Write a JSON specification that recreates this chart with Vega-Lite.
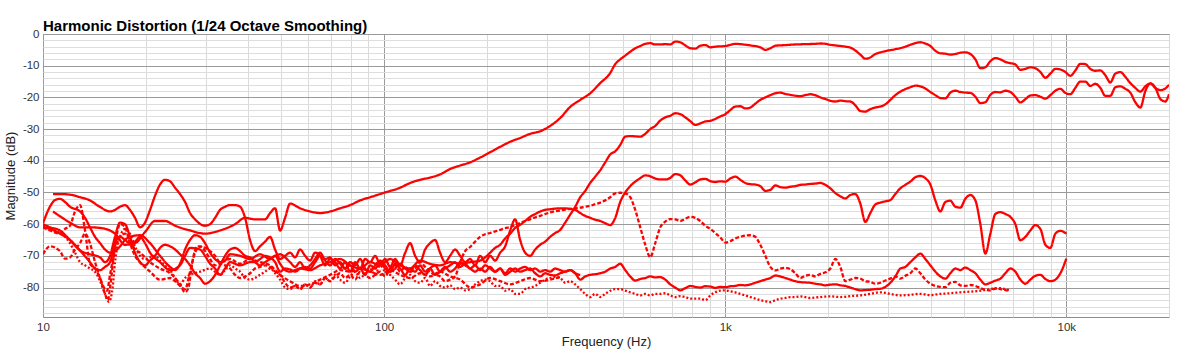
{
"$schema":"https://vega.github.io/schema/vega-lite/v6.json",
"width":1126,"height":283,
"autosize":{"type":"none"},
"padding":{"left":43,"top":34,"right":31,"bottom":37},
"background":"white",
"title":{"text":"Harmonic Distortion (1/24 Octave Smoothing)","anchor":"start","frame":"group","font":"Liberation Sans","fontSize":15,"fontWeight":"bold","color":"#000000","baseline":"alphabetic","offset":4,"dy":22},
"config":{"view":{"stroke":"#8c8c8c","strokeWidth":1}},
"data":{"values":[
{"s":"A","f":10.7,"y":-56},{"s":"A","f":11.21,"y":-57.5},{"s":"A","f":12,"y":-59.5},{"s":"A","f":12.84,"y":-61},{"s":"A","f":13.73,"y":-61},{"s":"A","f":14.7,"y":-61.2},{"s":"A","f":15.72,"y":-62},{"s":"A","f":16.26,"y":-63},{"s":"A","f":17.4,"y":-66.5},{"s":"A","f":18.61,"y":-66},{"s":"A","f":19.91,"y":-62.5},{"s":"A","f":21.31,"y":-59},{"s":"A","f":22.79,"y":-59},{"s":"A","f":24.39,"y":-60.5},{"s":"A","f":26.98,"y":-62},{"s":"A","f":29.86,"y":-63},{"s":"A","f":33.04,"y":-62},{"s":"A","f":36.57,"y":-60},{"s":"A","f":39.12,"y":-58},{"s":"A","f":41.85,"y":-58.5},{"s":"A","f":44.78,"y":-58.5},{"s":"A","f":46.32,"y":-56.5},{"s":"A","f":47.91,"y":-55},{"s":"A","f":49.55,"y":-62},{"s":"A","f":51.25,"y":-58},{"s":"A","f":53.02,"y":-53.5},{"s":"A","f":56.72,"y":-55},{"s":"A","f":60.68,"y":-56},{"s":"A","f":64.92,"y":-56.5},{"s":"A","f":69.46,"y":-56},{"s":"A","f":74.31,"y":-55},{"s":"A","f":79.5,"y":-54},{"s":"A","f":85.06,"y":-52.5},{"s":"A","f":91,"y":-51.5},{"s":"A","f":100.7,"y":-50},{"s":"A","f":111.4,"y":-48.5},{"s":"A","f":119.2,"y":-47},{"s":"A","f":127.5,"y":-46},{"s":"A","f":136.4,"y":-45.3},{"s":"A","f":145.9,"y":-44.3},{"s":"A","f":156.1,"y":-42.6},{"s":"A","f":167.1,"y":-41.5},{"s":"A","f":178.7,"y":-40.5},{"s":"A","f":191.2,"y":-39},{"s":"A","f":204.6,"y":-37.3},{"s":"A","f":218.9,"y":-35.6},{"s":"A","f":234.2,"y":-34},{"s":"A","f":250.5,"y":-32.8},{"s":"A","f":268,"y":-31.5},{"s":"A","f":286.8,"y":-30.7},{"s":"A","f":306.8,"y":-29},{"s":"A","f":328.3,"y":-26.5},{"s":"A","f":351.2,"y":-23},{"s":"A","f":375.8,"y":-20.8},{"s":"A","f":402,"y":-18.7},{"s":"A","f":430.1,"y":-15.5},{"s":"A","f":460.2,"y":-12.3},{"s":"A","f":476,"y":-9.5},{"s":"A","f":492.3,"y":-8},{"s":"A","f":509.2,"y":-6.8},{"s":"A","f":526.7,"y":-5.6},{"s":"A","f":544.8,"y":-4.5},{"s":"A","f":563.6,"y":-3.8},{"s":"A","f":582.9,"y":-3.1},{"s":"A","f":602.9,"y":-2.9},{"s":"A","f":623.6,"y":-3.3},{"s":"A","f":645.1,"y":-3.3},{"s":"A","f":667.2,"y":-3.2},{"s":"A","f":690.2,"y":-3.3},{"s":"A","f":713.9,"y":-2.4},{"s":"A","f":738.4,"y":-2.6},{"s":"A","f":763.7,"y":-3.6},{"s":"A","f":790,"y":-4.5},{"s":"A","f":817.1,"y":-4.6},{"s":"A","f":845.2,"y":-3.7},{"s":"A","f":874.2,"y":-3.5},{"s":"A","f":904.3,"y":-4.2},{"s":"A","f":935.3,"y":-4},{"s":"A","f":967.5,"y":-3.9},{"s":"A","f":1001,"y":-3.8},{"s":"A","f":1035,"y":-3.4},{"s":"A","f":1070,"y":-3.1},{"s":"A","f":1107,"y":-3.2},{"s":"A","f":1185,"y":-3.6},{"s":"A","f":1267,"y":-4.2},{"s":"A","f":1311,"y":-5},{"s":"A","f":1356,"y":-4.5},{"s":"A","f":1403,"y":-3.7},{"s":"A","f":1501,"y":-3.5},{"s":"A","f":1605,"y":-3.3},{"s":"A","f":1717,"y":-3.2},{"s":"A","f":1837,"y":-3.1},{"s":"A","f":1900,"y":-3},{"s":"A","f":1966,"y":-3.1},{"s":"A","f":2033,"y":-3.4},{"s":"A","f":2103,"y":-3.6},{"s":"A","f":2250,"y":-4},{"s":"A","f":2327,"y":-4.3},{"s":"A","f":2407,"y":-5.2},{"s":"A","f":2489,"y":-6.5},{"s":"A","f":2575,"y":-7.8},{"s":"A","f":2663,"y":-7.4},{"s":"A","f":2755,"y":-6.3},{"s":"A","f":2849,"y":-5.8},{"s":"A","f":2947,"y":-5.4},{"s":"A","f":3153,"y":-4.8},{"s":"A","f":3373,"y":-4},{"s":"A","f":3489,"y":-3.4},{"s":"A","f":3609,"y":-2.9},{"s":"A","f":3733,"y":-2.6},{"s":"A","f":3861,"y":-3},{"s":"A","f":3994,"y":-3.8},{"s":"A","f":4131,"y":-5.3},{"s":"A","f":4273,"y":-6.1},{"s":"A","f":4420,"y":-6.2},{"s":"A","f":4571,"y":-6.5},{"s":"A","f":4728,"y":-6.3},{"s":"A","f":4890,"y":-5.9},{"s":"A","f":5058,"y":-5.8},{"s":"A","f":5232,"y":-6.3},{"s":"A","f":5412,"y":-8},{"s":"A","f":5597,"y":-10.8},{"s":"A","f":5790,"y":-10.5},{"s":"A","f":5988,"y":-8.6},{"s":"A","f":6194,"y":-7.6},{"s":"A","f":6406,"y":-8},{"s":"A","f":6626,"y":-8.8},{"s":"A","f":6854,"y":-9.2},{"s":"A","f":7089,"y":-9.6},{"s":"A","f":7332,"y":-11.3},{"s":"A","f":7584,"y":-11},{"s":"A","f":7845,"y":-10.5},{"s":"A","f":8114,"y":-10.8},{"s":"A","f":8393,"y":-12},{"s":"A","f":8681,"y":-13.8},{"s":"A","f":8979,"y":-12.5},{"s":"A","f":9288,"y":-11},{"s":"A","f":9606,"y":-11.2},{"s":"A","f":9936,"y":-12},{"s":"A","f":10274,"y":-13.2},{"s":"A","f":10630,"y":-11.5},{"s":"A","f":10992,"y":-9.4},{"s":"A","f":11370,"y":-9.5},{"s":"A","f":11760,"y":-11},{"s":"A","f":12160,"y":-11.6},{"s":"A","f":12581,"y":-11.5},{"s":"A","f":13010,"y":-13},{"s":"A","f":13460,"y":-15.3},{"s":"A","f":13920,"y":-12.5},{"s":"A","f":14400,"y":-12},{"s":"A","f":14890,"y":-13.5},{"s":"A","f":15406,"y":-15.5},{"s":"A","f":15930,"y":-17},{"s":"A","f":16483,"y":-18.2},{"s":"A","f":17050,"y":-16.5},{"s":"A","f":17634,"y":-15.6},{"s":"A","f":18240,"y":-17},{"s":"A","f":18866,"y":-17.7},{"s":"A","f":19510,"y":-17.2},{"s":"A","f":20000,"y":-16},
{"s":"B","f":10.7,"y":-50.5},{"s":"B","f":11.21,"y":-50.5},{"s":"B","f":12,"y":-50.7},{"s":"B","f":12.84,"y":-51.5},{"s":"B","f":13.73,"y":-52.5},{"s":"B","f":14.7,"y":-54.6},{"s":"B","f":15.72,"y":-56},{"s":"B","f":16.26,"y":-55.5},{"s":"B","f":16.82,"y":-54.5},{"s":"B","f":17.4,"y":-54},{"s":"B","f":17.99,"y":-55.5},{"s":"B","f":18.61,"y":-58},{"s":"B","f":19.25,"y":-61},{"s":"B","f":19.91,"y":-59.5},{"s":"B","f":20.6,"y":-55.5},{"s":"B","f":21.31,"y":-51},{"s":"B","f":22.03,"y":-47.5},{"s":"B","f":22.79,"y":-46},{"s":"B","f":23.58,"y":-46.5},{"s":"B","f":24.39,"y":-48.5},{"s":"B","f":25.22,"y":-50.5},{"s":"B","f":26.09,"y":-53},{"s":"B","f":26.98,"y":-56.5},{"s":"B","f":27.91,"y":-58.5},{"s":"B","f":29.86,"y":-60.5},{"s":"B","f":30.89,"y":-60},{"s":"B","f":31.95,"y":-58},{"s":"B","f":33.04,"y":-55.5},{"s":"B","f":34.18,"y":-54.5},{"s":"B","f":35.35,"y":-54},{"s":"B","f":36.57,"y":-54},{"s":"B","f":37.82,"y":-54.5},{"s":"B","f":39.12,"y":-58},{"s":"B","f":40.46,"y":-65},{"s":"B","f":41.85,"y":-68.5},{"s":"B","f":43.29,"y":-67},{"s":"B","f":44.78,"y":-65.5},{"s":"B","f":46.32,"y":-64},{"s":"B","f":47.91,"y":-68},{"s":"B","f":49.55,"y":-71},{"s":"B","f":51.25,"y":-70},{"s":"B","f":53.02,"y":-69},{"s":"B","f":54.84,"y":-70.5},{"s":"B","f":56.72,"y":-68},{"s":"B","f":58.67,"y":-70},{"s":"B","f":60.68,"y":-71.5},{"s":"B","f":62.77,"y":-69},{"s":"B","f":64.92,"y":-70},{"s":"B","f":67.15,"y":-73},{"s":"B","f":69.46,"y":-71},{"s":"B","f":71.85,"y":-72},{"s":"B","f":74.31,"y":-74},{"s":"B","f":76.87,"y":-72},{"s":"B","f":79.5,"y":-75},{"s":"B","f":82.23,"y":-72},{"s":"B","f":85.06,"y":-74},{"s":"B","f":87.98,"y":-71},{"s":"B","f":91,"y":-72},{"s":"B","f":94.13,"y":-70},{"s":"B","f":97.34,"y":-72.5},{"s":"B","f":100.7,"y":-71},{"s":"B","f":104.1,"y":-73.5},{"s":"B","f":107.7,"y":-71},{"s":"B","f":111.4,"y":-73},{"s":"B","f":115.3,"y":-69},{"s":"B","f":119.2,"y":-66},{"s":"B","f":123.3,"y":-70},{"s":"B","f":127.5,"y":-72},{"s":"B","f":131.9,"y":-68},{"s":"B","f":136.4,"y":-66},{"s":"B","f":141.1,"y":-65},{"s":"B","f":145.9,"y":-69},{"s":"B","f":150.9,"y":-72},{"s":"B","f":156.1,"y":-70},{"s":"B","f":161.5,"y":-68},{"s":"B","f":167.1,"y":-70},{"s":"B","f":172.8,"y":-72},{"s":"B","f":178.7,"y":-71},{"s":"B","f":184.9,"y":-73},{"s":"B","f":191.2,"y":-70},{"s":"B","f":197.8,"y":-72},{"s":"B","f":204.6,"y":-70},{"s":"B","f":211.6,"y":-71.5},{"s":"B","f":218.9,"y":-69},{"s":"B","f":226.4,"y":-67},{"s":"B","f":234.2,"y":-62},{"s":"B","f":242.2,"y":-58.5},{"s":"B","f":250.5,"y":-65},{"s":"B","f":259.1,"y":-69},{"s":"B","f":268,"y":-70},{"s":"B","f":277.3,"y":-68},{"s":"B","f":286.8,"y":-66.5},{"s":"B","f":296.6,"y":-65.5},{"s":"B","f":306.8,"y":-64},{"s":"B","f":317.4,"y":-62.8},{"s":"B","f":328.3,"y":-61.8},{"s":"B","f":339.5,"y":-59.5},{"s":"B","f":351.2,"y":-57},{"s":"B","f":363.3,"y":-54.5},{"s":"B","f":375.8,"y":-51.5},{"s":"B","f":388.7,"y":-49.5},{"s":"B","f":402,"y":-47},{"s":"B","f":415.8,"y":-45},{"s":"B","f":430.1,"y":-43},{"s":"B","f":444.9,"y":-40.5},{"s":"B","f":460.2,"y":-38},{"s":"B","f":476,"y":-37},{"s":"B","f":492.3,"y":-35},{"s":"B","f":509.2,"y":-32.4},{"s":"B","f":526.7,"y":-32.2},{"s":"B","f":544.8,"y":-32.3},{"s":"B","f":563.6,"y":-32.4},{"s":"B","f":582.9,"y":-31.5},{"s":"B","f":602.9,"y":-30},{"s":"B","f":623.6,"y":-29},{"s":"B","f":645.1,"y":-27.3},{"s":"B","f":667.2,"y":-26.3},{"s":"B","f":690.2,"y":-25.8},{"s":"B","f":713.9,"y":-25},{"s":"B","f":738.4,"y":-25.3},{"s":"B","f":763.7,"y":-26.3},{"s":"B","f":790,"y":-27.5},{"s":"B","f":817.1,"y":-28.7},{"s":"B","f":845.2,"y":-28.2},{"s":"B","f":874.2,"y":-27.6},{"s":"B","f":904.3,"y":-27.4},{"s":"B","f":935.3,"y":-26.8},{"s":"B","f":967.5,"y":-26},{"s":"B","f":1001,"y":-25.3},{"s":"B","f":1035,"y":-24},{"s":"B","f":1070,"y":-22.9},{"s":"B","f":1107,"y":-22.8},{"s":"B","f":1145,"y":-23.5},{"s":"B","f":1185,"y":-23.2},{"s":"B","f":1225,"y":-22},{"s":"B","f":1267,"y":-20.8},{"s":"B","f":1311,"y":-20},{"s":"B","f":1356,"y":-19.3},{"s":"B","f":1403,"y":-18.7},{"s":"B","f":1451,"y":-18.5},{"s":"B","f":1501,"y":-18.9},{"s":"B","f":1552,"y":-19.2},{"s":"B","f":1660,"y":-19.6},{"s":"B","f":1717,"y":-19.3},{"s":"B","f":1776,"y":-19},{"s":"B","f":1837,"y":-19.3},{"s":"B","f":1900,"y":-20},{"s":"B","f":1966,"y":-20.5},{"s":"B","f":2033,"y":-21.1},{"s":"B","f":2103,"y":-21.3},{"s":"B","f":2175,"y":-21},{"s":"B","f":2250,"y":-21.2},{"s":"B","f":2327,"y":-21.3},{"s":"B","f":2407,"y":-22.5},{"s":"B","f":2489,"y":-24.3},{"s":"B","f":2575,"y":-24.5},{"s":"B","f":2663,"y":-23.7},{"s":"B","f":2755,"y":-23.2},{"s":"B","f":2849,"y":-22.9},{"s":"B","f":2947,"y":-22.2},{"s":"B","f":3048,"y":-20.8},{"s":"B","f":3153,"y":-19.3},{"s":"B","f":3261,"y":-18.2},{"s":"B","f":3373,"y":-17.4},{"s":"B","f":3489,"y":-16.8},{"s":"B","f":3609,"y":-16.3},{"s":"B","f":3733,"y":-16.5},{"s":"B","f":3861,"y":-17.2},{"s":"B","f":3994,"y":-18.3},{"s":"B","f":4131,"y":-19.3},{"s":"B","f":4273,"y":-20.2},{"s":"B","f":4420,"y":-20.3},{"s":"B","f":4571,"y":-18.5},{"s":"B","f":4728,"y":-17.9},{"s":"B","f":4890,"y":-18.3},{"s":"B","f":5058,"y":-18.5},{"s":"B","f":5232,"y":-18.6},{"s":"B","f":5412,"y":-19.8},{"s":"B","f":5597,"y":-21.8},{"s":"B","f":5790,"y":-21.5},{"s":"B","f":5988,"y":-19.2},{"s":"B","f":6194,"y":-18.3},{"s":"B","f":6406,"y":-18.4},{"s":"B","f":6626,"y":-17.9},{"s":"B","f":6854,"y":-18.3},{"s":"B","f":7089,"y":-19.8},{"s":"B","f":7332,"y":-21.6},{"s":"B","f":7584,"y":-20.6},{"s":"B","f":7845,"y":-19.4},{"s":"B","f":8114,"y":-19.3},{"s":"B","f":8393,"y":-19.8},{"s":"B","f":8681,"y":-20.4},{"s":"B","f":8979,"y":-19.3},{"s":"B","f":9288,"y":-17.9},{"s":"B","f":9606,"y":-17.3},{"s":"B","f":9936,"y":-18.6},{"s":"B","f":10274,"y":-19},{"s":"B","f":10630,"y":-17},{"s":"B","f":10992,"y":-15},{"s":"B","f":11370,"y":-15},{"s":"B","f":11760,"y":-16.4},{"s":"B","f":12160,"y":-15.7},{"s":"B","f":12581,"y":-17},{"s":"B","f":13010,"y":-19.5},{"s":"B","f":13460,"y":-19.5},{"s":"B","f":13920,"y":-16.8},{"s":"B","f":14400,"y":-16.5},{"s":"B","f":14890,"y":-17.3},{"s":"B","f":15406,"y":-18.5},{"s":"B","f":15930,"y":-21.5},{"s":"B","f":16483,"y":-23.2},{"s":"B","f":17050,"y":-18},{"s":"B","f":17634,"y":-15.6},{"s":"B","f":18240,"y":-17},{"s":"B","f":18866,"y":-20.5},{"s":"B","f":19510,"y":-21.3},{"s":"B","f":20000,"y":-19},
{"s":"C","f":10,"y":-59.7},{"s":"C","f":10.48,"y":-54.5},{"s":"C","f":10.84,"y":-52.4},{"s":"C","f":11.21,"y":-52},{"s":"C","f":11.6,"y":-53},{"s":"C","f":12,"y":-54.5},{"s":"C","f":12.84,"y":-56},{"s":"C","f":13.28,"y":-58},{"s":"C","f":13.73,"y":-61},{"s":"C","f":14.21,"y":-64},{"s":"C","f":14.7,"y":-66},{"s":"C","f":15.2,"y":-68},{"s":"C","f":15.72,"y":-69},{"s":"C","f":16.26,"y":-68.5},{"s":"C","f":16.82,"y":-67},{"s":"C","f":17.4,"y":-65},{"s":"C","f":17.99,"y":-64},{"s":"C","f":19.25,"y":-63.5},{"s":"C","f":20.6,"y":-66},{"s":"C","f":22.03,"y":-70},{"s":"C","f":23.58,"y":-73.5},{"s":"C","f":24.39,"y":-74.5},{"s":"C","f":25.22,"y":-72.5},{"s":"C","f":26.09,"y":-68},{"s":"C","f":26.98,"y":-65},{"s":"C","f":27.91,"y":-63.5},{"s":"C","f":28.87,"y":-64},{"s":"C","f":29.86,"y":-66},{"s":"C","f":30.89,"y":-69},{"s":"C","f":31.95,"y":-71},{"s":"C","f":33.04,"y":-72},{"s":"C","f":34.18,"y":-71.5},{"s":"C","f":35.35,"y":-69.5},{"s":"C","f":37.82,"y":-70},{"s":"C","f":40.46,"y":-71},{"s":"C","f":43.29,"y":-69.5},{"s":"C","f":46.32,"y":-71},{"s":"C","f":47.91,"y":-70},{"s":"C","f":49.55,"y":-72.5},{"s":"C","f":51.25,"y":-74.5},{"s":"C","f":53.02,"y":-75},{"s":"C","f":56.72,"y":-74},{"s":"C","f":60.68,"y":-74.5},{"s":"C","f":64.92,"y":-73},{"s":"C","f":69.46,"y":-72},{"s":"C","f":74.31,"y":-71},{"s":"C","f":79.5,"y":-73},{"s":"C","f":85.06,"y":-74},{"s":"C","f":91,"y":-72},{"s":"C","f":97.34,"y":-73},{"s":"C","f":104.1,"y":-71},{"s":"C","f":111.4,"y":-73},{"s":"C","f":119.2,"y":-74},{"s":"C","f":127.5,"y":-71.5},{"s":"C","f":136.4,"y":-72.5},{"s":"C","f":145.9,"y":-73},{"s":"C","f":156.1,"y":-72},{"s":"C","f":167.1,"y":-72.5},{"s":"C","f":178.7,"y":-72},{"s":"C","f":191.2,"y":-71.5},{"s":"C","f":197.8,"y":-70.5},{"s":"C","f":204.6,"y":-69},{"s":"C","f":211.6,"y":-67.5},{"s":"C","f":218.9,"y":-66.5},{"s":"C","f":226.4,"y":-64.5},{"s":"C","f":234.2,"y":-63},{"s":"C","f":242.2,"y":-61.2},{"s":"C","f":250.5,"y":-60.2},{"s":"C","f":259.1,"y":-59},{"s":"C","f":268,"y":-57.7},{"s":"C","f":277.3,"y":-56.8},{"s":"C","f":286.8,"y":-56},{"s":"C","f":296.6,"y":-55.5},{"s":"C","f":306.8,"y":-55.3},{"s":"C","f":317.4,"y":-55.1},{"s":"C","f":328.3,"y":-55},{"s":"C","f":339.5,"y":-55},{"s":"C","f":351.2,"y":-55.2},{"s":"C","f":363.3,"y":-55.5},{"s":"C","f":375.8,"y":-56.5},{"s":"C","f":388.7,"y":-57.4},{"s":"C","f":402,"y":-58},{"s":"C","f":415.8,"y":-58.6},{"s":"C","f":430.1,"y":-59},{"s":"C","f":444.9,"y":-59.7},{"s":"C","f":460.2,"y":-60.3},{"s":"C","f":476,"y":-58},{"s":"C","f":492.3,"y":-53},{"s":"C","f":509.2,"y":-50},{"s":"C","f":526.7,"y":-48},{"s":"C","f":544.8,"y":-46.6},{"s":"C","f":563.6,"y":-45.5},{"s":"C","f":582.9,"y":-44.6},{"s":"C","f":602.9,"y":-44.9},{"s":"C","f":623.6,"y":-45.6},{"s":"C","f":645.1,"y":-45.9},{"s":"C","f":667.2,"y":-45.9},{"s":"C","f":690.2,"y":-45.4},{"s":"C","f":713.9,"y":-44.2},{"s":"C","f":738.4,"y":-44.6},{"s":"C","f":763.7,"y":-46.2},{"s":"C","f":790,"y":-47.5},{"s":"C","f":817.1,"y":-46.8},{"s":"C","f":845.2,"y":-45.9},{"s":"C","f":874.2,"y":-45.7},{"s":"C","f":904.3,"y":-46.4},{"s":"C","f":935.3,"y":-46.7},{"s":"C","f":967.5,"y":-46.5},{"s":"C","f":1001,"y":-46.6},{"s":"C","f":1035,"y":-45.6},{"s":"C","f":1070,"y":-45},{"s":"C","f":1107,"y":-46},{"s":"C","f":1145,"y":-47},{"s":"C","f":1185,"y":-47.4},{"s":"C","f":1225,"y":-47.5},{"s":"C","f":1267,"y":-48},{"s":"C","f":1311,"y":-49.5},{"s":"C","f":1356,"y":-49.2},{"s":"C","f":1403,"y":-47.8},{"s":"C","f":1451,"y":-48.3},{"s":"C","f":1501,"y":-48.5},{"s":"C","f":1552,"y":-48.2},{"s":"C","f":1605,"y":-48},{"s":"C","f":1660,"y":-47.6},{"s":"C","f":1717,"y":-47.5},{"s":"C","f":1776,"y":-47.3},{"s":"C","f":1837,"y":-47.2},{"s":"C","f":1900,"y":-47},{"s":"C","f":1966,"y":-47.6},{"s":"C","f":2033,"y":-48.7},{"s":"C","f":2103,"y":-50.2},{"s":"C","f":2175,"y":-51.2},{"s":"C","f":2250,"y":-51.9},{"s":"C","f":2327,"y":-50.8},{"s":"C","f":2407,"y":-50.5},{"s":"C","f":2489,"y":-53.5},{"s":"C","f":2575,"y":-59.3},{"s":"C","f":2663,"y":-56.5},{"s":"C","f":2755,"y":-53.8},{"s":"C","f":2849,"y":-53.2},{"s":"C","f":2947,"y":-52.8},{"s":"C","f":3048,"y":-52.4},{"s":"C","f":3153,"y":-50.5},{"s":"C","f":3261,"y":-48.7},{"s":"C","f":3373,"y":-47.6},{"s":"C","f":3489,"y":-46.6},{"s":"C","f":3609,"y":-45.2},{"s":"C","f":3733,"y":-44.8},{"s":"C","f":3861,"y":-45.5},{"s":"C","f":3994,"y":-47.5},{"s":"C","f":4131,"y":-52.5},{"s":"C","f":4273,"y":-56},{"s":"C","f":4420,"y":-53},{"s":"C","f":4571,"y":-52.6},{"s":"C","f":4728,"y":-54.5},{"s":"C","f":4890,"y":-54.8},{"s":"C","f":5058,"y":-52},{"s":"C","f":5232,"y":-50.8},{"s":"C","f":5412,"y":-52.5},{"s":"C","f":5597,"y":-60},{"s":"C","f":5790,"y":-69.3},{"s":"C","f":5988,"y":-63},{"s":"C","f":6194,"y":-56.8},{"s":"C","f":6406,"y":-56.2},{"s":"C","f":6626,"y":-56.8},{"s":"C","f":6854,"y":-57.7},{"s":"C","f":7089,"y":-60},{"s":"C","f":7332,"y":-65.1},{"s":"C","f":7584,"y":-64},{"s":"C","f":7845,"y":-62},{"s":"C","f":8114,"y":-60.3},{"s":"C","f":8393,"y":-61.5},{"s":"C","f":8681,"y":-66.5},{"s":"C","f":8979,"y":-67.5},{"s":"C","f":9288,"y":-63},{"s":"C","f":9606,"y":-62.1},{"s":"C","f":10000,"y":-63},
{"s":"D","f":10,"y":-61},{"s":"D","f":10.48,"y":-62},{"s":"D","f":11.21,"y":-63},{"s":"D","f":11.6,"y":-61.5},{"s":"D","f":12,"y":-60.5},{"s":"D","f":12.41,"y":-56},{"s":"D","f":12.84,"y":-54},{"s":"D","f":13.28,"y":-62},{"s":"D","f":13.73,"y":-72.5},{"s":"D","f":14.21,"y":-74},{"s":"D","f":14.7,"y":-77},{"s":"D","f":15.2,"y":-82},{"s":"D","f":15.5,"y":-84},{"s":"D","f":15.72,"y":-80},{"s":"D","f":16.26,"y":-67},{"s":"D","f":16.82,"y":-60},{"s":"D","f":17.4,"y":-61},{"s":"D","f":17.99,"y":-66},{"s":"D","f":18.61,"y":-70},{"s":"D","f":19.25,"y":-72},{"s":"D","f":20.6,"y":-75},{"s":"D","f":22.03,"y":-77.5},{"s":"D","f":23.58,"y":-77},{"s":"D","f":24.39,"y":-78},{"s":"D","f":25.22,"y":-79.5},{"s":"D","f":26.09,"y":-80.5},{"s":"D","f":26.98,"y":-75},{"s":"D","f":27.91,"y":-69},{"s":"D","f":28.87,"y":-67},{"s":"D","f":29.86,"y":-68.5},{"s":"D","f":30.89,"y":-71},{"s":"D","f":31.95,"y":-73},{"s":"D","f":33.04,"y":-72.5},{"s":"D","f":34.18,"y":-73},{"s":"D","f":35.35,"y":-74},{"s":"D","f":36.57,"y":-76},{"s":"D","f":37.82,"y":-77},{"s":"D","f":39.12,"y":-76.5},{"s":"D","f":40.46,"y":-75.5},{"s":"D","f":41.85,"y":-74},{"s":"D","f":43.29,"y":-73.5},{"s":"D","f":44.78,"y":-73},{"s":"D","f":46.32,"y":-73.5},{"s":"D","f":47.91,"y":-75},{"s":"D","f":49.55,"y":-76},{"s":"D","f":51.25,"y":-78.5},{"s":"D","f":53.02,"y":-80},{"s":"D","f":54.84,"y":-79.5},{"s":"D","f":56.72,"y":-80.5},{"s":"D","f":58.67,"y":-79},{"s":"D","f":60.68,"y":-80},{"s":"D","f":62.77,"y":-78.5},{"s":"D","f":64.92,"y":-79},{"s":"D","f":67.15,"y":-77},{"s":"D","f":69.46,"y":-78},{"s":"D","f":71.85,"y":-76.5},{"s":"D","f":74.31,"y":-75.5},{"s":"D","f":76.87,"y":-77},{"s":"D","f":79.5,"y":-76},{"s":"D","f":82.23,"y":-77.5},{"s":"D","f":85.06,"y":-75},{"s":"D","f":87.98,"y":-76},{"s":"D","f":91,"y":-77},{"s":"D","f":94.13,"y":-76},{"s":"D","f":97.34,"y":-75},{"s":"D","f":100.7,"y":-76.5},{"s":"D","f":104.1,"y":-74},{"s":"D","f":107.7,"y":-73},{"s":"D","f":111.4,"y":-75},{"s":"D","f":115.3,"y":-73.5},{"s":"D","f":119.2,"y":-75},{"s":"D","f":123.3,"y":-74},{"s":"D","f":127.5,"y":-72},{"s":"D","f":131.9,"y":-73.5},{"s":"D","f":136.4,"y":-75},{"s":"D","f":141.1,"y":-76},{"s":"D","f":145.9,"y":-76.5},{"s":"D","f":150.9,"y":-78},{"s":"D","f":156.1,"y":-77.5},{"s":"D","f":161.5,"y":-76.5},{"s":"D","f":167.1,"y":-72},{"s":"D","f":172.8,"y":-68.5},{"s":"D","f":178.7,"y":-67.2},{"s":"D","f":184.9,"y":-65.5},{"s":"D","f":191.2,"y":-64},{"s":"D","f":197.8,"y":-63.2},{"s":"D","f":204.6,"y":-62.8},{"s":"D","f":211.6,"y":-62.3},{"s":"D","f":218.9,"y":-61.8},{"s":"D","f":226.4,"y":-61.3},{"s":"D","f":234.2,"y":-60.9},{"s":"D","f":242.2,"y":-60.3},{"s":"D","f":250.5,"y":-59.6},{"s":"D","f":259.1,"y":-59},{"s":"D","f":268,"y":-58.5},{"s":"D","f":277.3,"y":-57.9},{"s":"D","f":286.8,"y":-57.4},{"s":"D","f":296.6,"y":-56.8},{"s":"D","f":306.8,"y":-56.3},{"s":"D","f":317.4,"y":-55.9},{"s":"D","f":328.3,"y":-55.7},{"s":"D","f":339.5,"y":-55.4},{"s":"D","f":351.2,"y":-55.2},{"s":"D","f":363.3,"y":-55},{"s":"D","f":375.8,"y":-54.8},{"s":"D","f":388.7,"y":-54.5},{"s":"D","f":402,"y":-54.2},{"s":"D","f":415.8,"y":-53.7},{"s":"D","f":430.1,"y":-53.2},{"s":"D","f":444.9,"y":-52.5},{"s":"D","f":460.2,"y":-51.5},{"s":"D","f":476,"y":-50.3},{"s":"D","f":492.3,"y":-50.1},{"s":"D","f":509.2,"y":-50.3},{"s":"D","f":526.7,"y":-51.5},{"s":"D","f":544.8,"y":-55.5},{"s":"D","f":563.6,"y":-61},{"s":"D","f":582.9,"y":-66.5},{"s":"D","f":602.9,"y":-70.4},{"s":"D","f":623.6,"y":-66},{"s":"D","f":645.1,"y":-61},{"s":"D","f":667.2,"y":-59.2},{"s":"D","f":690.2,"y":-58.4},{"s":"D","f":713.9,"y":-58.5},{"s":"D","f":738.4,"y":-59},{"s":"D","f":763.7,"y":-58.3},{"s":"D","f":790,"y":-57.7},{"s":"D","f":817.1,"y":-58},{"s":"D","f":845.2,"y":-59},{"s":"D","f":874.2,"y":-60.5},{"s":"D","f":904.3,"y":-61.5},{"s":"D","f":935.3,"y":-62.8},{"s":"D","f":967.5,"y":-64.2},{"s":"D","f":1001,"y":-65.8},{"s":"D","f":1035,"y":-65.4},{"s":"D","f":1070,"y":-64.5},{"s":"D","f":1107,"y":-64},{"s":"D","f":1145,"y":-63.6},{"s":"D","f":1185,"y":-63.5},{"s":"D","f":1225,"y":-64},{"s":"D","f":1267,"y":-66.5},{"s":"D","f":1311,"y":-70},{"s":"D","f":1356,"y":-73.5},{"s":"D","f":1403,"y":-74.6},{"s":"D","f":1451,"y":-74},{"s":"D","f":1501,"y":-73.8},{"s":"D","f":1552,"y":-74.2},{"s":"D","f":1605,"y":-75.5},{"s":"D","f":1660,"y":-77},{"s":"D","f":1717,"y":-76.3},{"s":"D","f":1776,"y":-76},{"s":"D","f":1837,"y":-76.5},{"s":"D","f":1900,"y":-75.7},{"s":"D","f":1966,"y":-75.2},{"s":"D","f":2033,"y":-74},{"s":"D","f":2103,"y":-71},{"s":"D","f":2175,"y":-73.5},{"s":"D","f":2250,"y":-78},{"s":"D","f":2327,"y":-77.5},{"s":"D","f":2407,"y":-77},{"s":"D","f":2489,"y":-77.2},{"s":"D","f":2575,"y":-78},{"s":"D","f":2663,"y":-78.2},{"s":"D","f":2755,"y":-78.8},{"s":"D","f":2849,"y":-78.5},{"s":"D","f":2947,"y":-77.8},{"s":"D","f":3048,"y":-77.2},{"s":"D","f":3153,"y":-76.5},{"s":"D","f":3261,"y":-77.2},{"s":"D","f":3373,"y":-76.3},{"s":"D","f":3489,"y":-75.5},{"s":"D","f":3609,"y":-74},{"s":"D","f":3733,"y":-75.5},{"s":"D","f":3861,"y":-77.5},{"s":"D","f":3994,"y":-78.8},{"s":"D","f":4131,"y":-79.5},{"s":"D","f":4273,"y":-79.8},{"s":"D","f":4420,"y":-79.9},{"s":"D","f":4571,"y":-78.5},{"s":"D","f":4728,"y":-78.2},{"s":"D","f":4890,"y":-79.3},{"s":"D","f":5058,"y":-79.5},{"s":"D","f":5232,"y":-79.2},{"s":"D","f":5412,"y":-79.5},{"s":"D","f":5597,"y":-80.2},{"s":"D","f":5790,"y":-80.7},{"s":"D","f":5988,"y":-80.9},{"s":"D","f":6194,"y":-80.3},{"s":"D","f":6406,"y":-80.5},{"s":"D","f":6626,"y":-80.8},{"s":"D","f":6854,"y":-81},
{"s":"E","f":10,"y":-69.5},{"s":"E","f":10.48,"y":-67},{"s":"E","f":11.21,"y":-68.5},{"s":"E","f":11.6,"y":-70.9},{"s":"E","f":12,"y":-70.5},{"s":"E","f":12.41,"y":-68},{"s":"E","f":12.84,"y":-66},{"s":"E","f":13.28,"y":-63},{"s":"E","f":13.73,"y":-66},{"s":"E","f":14.21,"y":-72},{"s":"E","f":14.7,"y":-77},{"s":"E","f":15.2,"y":-80.5},{"s":"E","f":15.4,"y":-81},{"s":"E","f":15.72,"y":-76},{"s":"E","f":16.26,"y":-68},{"s":"E","f":16.82,"y":-64},{"s":"E","f":17.4,"y":-63},{"s":"E","f":17.99,"y":-65},{"s":"E","f":18.61,"y":-68},{"s":"E","f":19.25,"y":-69},{"s":"E","f":20.6,"y":-72},{"s":"E","f":22.03,"y":-74},{"s":"E","f":23.58,"y":-75.5},{"s":"E","f":24.39,"y":-77},{"s":"E","f":25.22,"y":-79},{"s":"E","f":26.09,"y":-81.5},{"s":"E","f":26.7,"y":-80},{"s":"E","f":27.4,"y":-72},{"s":"E","f":28.3,"y":-67},{"s":"E","f":29.86,"y":-67.5},{"s":"E","f":31.95,"y":-70},{"s":"E","f":33.04,"y":-72},{"s":"E","f":35.35,"y":-71},{"s":"E","f":37.82,"y":-72.5},{"s":"E","f":40.46,"y":-71},{"s":"E","f":43.29,"y":-72},{"s":"E","f":46.32,"y":-73},{"s":"E","f":49.55,"y":-76},{"s":"E","f":53.02,"y":-78},{"s":"E","f":56.72,"y":-79.5},{"s":"E","f":60.68,"y":-79},{"s":"E","f":64.92,"y":-77.5},{"s":"E","f":69.46,"y":-76},{"s":"E","f":74.31,"y":-74.5},{"s":"E","f":79.5,"y":-75},{"s":"E","f":85.06,"y":-74},{"s":"E","f":91,"y":-75},{"s":"E","f":97.34,"y":-76},{"s":"E","f":104.1,"y":-74.5},{"s":"E","f":111.4,"y":-76},{"s":"E","f":119.2,"y":-77},{"s":"E","f":127.5,"y":-75.5},{"s":"E","f":136.4,"y":-76.5},{"s":"E","f":145.9,"y":-75},{"s":"E","f":156.1,"y":-76.5},{"s":"E","f":167.1,"y":-77.5},{"s":"E","f":178.7,"y":-79.9},{"s":"E","f":191.2,"y":-79},{"s":"E","f":204.6,"y":-77},{"s":"E","f":218.9,"y":-78},{"s":"E","f":234.2,"y":-79},{"s":"E","f":250.5,"y":-78},{"s":"E","f":268,"y":-77},{"s":"E","f":286.8,"y":-78},{"s":"E","f":306.8,"y":-77.5},{"s":"E","f":328.3,"y":-76.7},
{"s":"F","f":10,"y":-60.5},{"s":"F","f":10.48,"y":-61},{"s":"F","f":10.84,"y":-62},{"s":"F","f":11.6,"y":-64},{"s":"F","f":12,"y":-66},{"s":"F","f":12.41,"y":-69},{"s":"F","f":12.84,"y":-72},{"s":"F","f":13.28,"y":-73},{"s":"F","f":13.73,"y":-74},{"s":"F","f":14.21,"y":-75},{"s":"F","f":14.7,"y":-78},{"s":"F","f":15.2,"y":-82},{"s":"F","f":15.6,"y":-84.5},{"s":"F","f":16,"y":-80},{"s":"F","f":16.26,"y":-72},{"s":"F","f":16.82,"y":-64},{"s":"F","f":17.4,"y":-61.5},{"s":"F","f":17.99,"y":-63},{"s":"F","f":18.61,"y":-67},{"s":"F","f":19.25,"y":-70},{"s":"F","f":19.91,"y":-71},{"s":"F","f":20.6,"y":-70.5},{"s":"F","f":21.31,"y":-70},{"s":"F","f":22.03,"y":-71.5},{"s":"F","f":22.79,"y":-73},{"s":"F","f":23.58,"y":-74.5},{"s":"F","f":24.39,"y":-77},{"s":"F","f":25.22,"y":-79},{"s":"F","f":26.09,"y":-77},{"s":"F","f":26.98,"y":-76},{"s":"F","f":28.87,"y":-75},{"s":"F","f":30.89,"y":-74},{"s":"F","f":31.95,"y":-75},{"s":"F","f":33.04,"y":-76},{"s":"F","f":34.18,"y":-74.5},{"s":"F","f":35.35,"y":-73},{"s":"F","f":36.57,"y":-74},{"s":"F","f":37.82,"y":-75},{"s":"F","f":39.12,"y":-77},{"s":"F","f":40.46,"y":-77.5},{"s":"F","f":43.29,"y":-76},{"s":"F","f":44.78,"y":-75},{"s":"F","f":46.32,"y":-74},{"s":"F","f":47.91,"y":-75.5},{"s":"F","f":49.55,"y":-77.5},{"s":"F","f":51.25,"y":-80},{"s":"F","f":53.02,"y":-80.5},{"s":"F","f":54.84,"y":-79.5},{"s":"F","f":56.72,"y":-80.5},{"s":"F","f":58.67,"y":-79},{"s":"F","f":60.68,"y":-80},{"s":"F","f":62.77,"y":-78},{"s":"F","f":64.92,"y":-79},{"s":"F","f":67.15,"y":-77},{"s":"F","f":69.46,"y":-78},{"s":"F","f":71.85,"y":-76},{"s":"F","f":74.31,"y":-77.5},{"s":"F","f":76.87,"y":-78.5},{"s":"F","f":79.5,"y":-76.5},{"s":"F","f":82.23,"y":-75},{"s":"F","f":85.06,"y":-77},{"s":"F","f":87.98,"y":-75.5},{"s":"F","f":91,"y":-74},{"s":"F","f":94.13,"y":-76},{"s":"F","f":97.34,"y":-73},{"s":"F","f":100.7,"y":-75},{"s":"F","f":104.1,"y":-76},{"s":"F","f":107.7,"y":-77.5},{"s":"F","f":111.4,"y":-79},{"s":"F","f":115.3,"y":-77},{"s":"F","f":119.2,"y":-76},{"s":"F","f":123.3,"y":-78},{"s":"F","f":127.5,"y":-78.5},{"s":"F","f":131.9,"y":-77},{"s":"F","f":136.4,"y":-79.5},{"s":"F","f":141.1,"y":-78},{"s":"F","f":145.9,"y":-79.5},{"s":"F","f":150.9,"y":-80},{"s":"F","f":156.1,"y":-79.3},{"s":"F","f":161.5,"y":-80.5},{"s":"F","f":167.1,"y":-80},{"s":"F","f":172.8,"y":-80.9},{"s":"F","f":178.7,"y":-80.5},{"s":"F","f":184.9,"y":-79},{"s":"F","f":191.2,"y":-78},{"s":"F","f":197.8,"y":-77.5},{"s":"F","f":204.6,"y":-78},{"s":"F","f":211.6,"y":-79.5},{"s":"F","f":218.9,"y":-79.5},{"s":"F","f":226.4,"y":-81},{"s":"F","f":234.2,"y":-80.5},{"s":"F","f":242.2,"y":-82},{"s":"F","f":250.5,"y":-82},{"s":"F","f":259.1,"y":-80.5},{"s":"F","f":268,"y":-80},{"s":"F","f":277.3,"y":-79.5},{"s":"F","f":286.8,"y":-78.5},{"s":"F","f":296.6,"y":-77.5},{"s":"F","f":306.8,"y":-77},{"s":"F","f":317.4,"y":-76.7},{"s":"F","f":328.3,"y":-77},{"s":"F","f":339.5,"y":-78.5},{"s":"F","f":351.2,"y":-78},{"s":"F","f":363.3,"y":-79},{"s":"F","f":375.8,"y":-80.5},{"s":"F","f":388.7,"y":-82},{"s":"F","f":402,"y":-83},{"s":"F","f":415.8,"y":-82},{"s":"F","f":430.1,"y":-83},{"s":"F","f":444.9,"y":-82},{"s":"F","f":460.2,"y":-81},{"s":"F","f":476,"y":-80.5},{"s":"F","f":492.3,"y":-80.5},{"s":"F","f":509.2,"y":-81},{"s":"F","f":526.7,"y":-81.5},{"s":"F","f":544.8,"y":-82},{"s":"F","f":563.6,"y":-82.5},{"s":"F","f":582.9,"y":-82},{"s":"F","f":602.9,"y":-82.5},{"s":"F","f":623.6,"y":-82},{"s":"F","f":645.1,"y":-82},{"s":"F","f":667.2,"y":-81.8},{"s":"F","f":690.2,"y":-82.5},{"s":"F","f":713.9,"y":-83},{"s":"F","f":738.4,"y":-82.7},{"s":"F","f":763.7,"y":-83},{"s":"F","f":790,"y":-83.5},{"s":"F","f":817.1,"y":-83.5},{"s":"F","f":845.2,"y":-83.5},{"s":"F","f":874.2,"y":-84},{"s":"F","f":904.3,"y":-82.5},{"s":"F","f":935.3,"y":-81.5},{"s":"F","f":967.5,"y":-81},{"s":"F","f":1001,"y":-80.9},{"s":"F","f":1035,"y":-81.2},{"s":"F","f":1070,"y":-81.5},{"s":"F","f":1107,"y":-82},{"s":"F","f":1145,"y":-82.5},{"s":"F","f":1185,"y":-83},{"s":"F","f":1225,"y":-83.5},{"s":"F","f":1267,"y":-84},{"s":"F","f":1311,"y":-84.3},{"s":"F","f":1356,"y":-84.6},{"s":"F","f":1403,"y":-84},{"s":"F","f":1451,"y":-83.5},{"s":"F","f":1501,"y":-83.3},{"s":"F","f":1552,"y":-83},{"s":"F","f":1605,"y":-83},{"s":"F","f":1660,"y":-82.8},{"s":"F","f":1776,"y":-83.3},{"s":"F","f":1900,"y":-83},{"s":"F","f":2033,"y":-82.8},{"s":"F","f":2175,"y":-83},{"s":"F","f":2327,"y":-82.7},{"s":"F","f":2489,"y":-82.5},{"s":"F","f":2663,"y":-82},{"s":"F","f":2849,"y":-81.5},{"s":"F","f":3048,"y":-82},{"s":"F","f":3261,"y":-82.5},{"s":"F","f":3489,"y":-82.3},{"s":"F","f":3733,"y":-82},{"s":"F","f":3994,"y":-82.4},{"s":"F","f":4273,"y":-82},{"s":"F","f":4571,"y":-81.8},{"s":"F","f":4890,"y":-81.5},{"s":"F","f":5232,"y":-81.3},{"s":"F","f":5597,"y":-81},{"s":"F","f":5988,"y":-80.5},{"s":"F","f":6406,"y":-80.2},{"s":"F","f":6626,"y":-80.5},{"s":"F","f":6854,"y":-81},
{"s":"G","f":10,"y":-61},{"s":"G","f":10.48,"y":-61.5},{"s":"G","f":11.21,"y":-63},{"s":"G","f":12,"y":-65},{"s":"G","f":12.84,"y":-68.3},{"s":"G","f":13.73,"y":-72},{"s":"G","f":14.21,"y":-74},{"s":"G","f":14.7,"y":-74.5},{"s":"G","f":15.2,"y":-73.5},{"s":"G","f":15.72,"y":-72},{"s":"G","f":16.26,"y":-66},{"s":"G","f":16.82,"y":-64},{"s":"G","f":17.4,"y":-65},{"s":"G","f":17.99,"y":-66},{"s":"G","f":18.61,"y":-65.5},{"s":"G","f":19.25,"y":-64},{"s":"G","f":19.91,"y":-66},{"s":"G","f":20.6,"y":-69},{"s":"G","f":22.03,"y":-72},{"s":"G","f":23.58,"y":-74.5},{"s":"G","f":25.22,"y":-73},{"s":"G","f":26.09,"y":-70},{"s":"G","f":26.98,"y":-67.5},{"s":"G","f":28.87,"y":-68},{"s":"G","f":29.86,"y":-70},{"s":"G","f":30.89,"y":-72.5},{"s":"G","f":31.95,"y":-74},{"s":"G","f":33.04,"y":-76},{"s":"G","f":34.18,"y":-74},{"s":"G","f":35.35,"y":-72},{"s":"G","f":37.82,"y":-73},{"s":"G","f":40.46,"y":-72},{"s":"G","f":41.85,"y":-72},{"s":"G","f":43.29,"y":-71},{"s":"G","f":44.78,"y":-70},{"s":"G","f":46.32,"y":-70.5},{"s":"G","f":47.91,"y":-72},{"s":"G","f":49.55,"y":-75},{"s":"G","f":51.25,"y":-74},{"s":"G","f":53.02,"y":-74.3},{"s":"G","f":54.84,"y":-75},{"s":"G","f":56.72,"y":-74},{"s":"G","f":58.67,"y":-73.5},{"s":"G","f":60.68,"y":-74},{"s":"G","f":62.77,"y":-72},{"s":"G","f":64.92,"y":-70},{"s":"G","f":67.15,"y":-71},{"s":"G","f":69.46,"y":-70.5},{"s":"G","f":71.85,"y":-73},{"s":"G","f":74.31,"y":-72},{"s":"G","f":76.87,"y":-74},{"s":"G","f":79.5,"y":-73},{"s":"G","f":82.23,"y":-75},{"s":"G","f":85.06,"y":-74},{"s":"G","f":87.98,"y":-76},{"s":"G","f":91,"y":-73},{"s":"G","f":94.13,"y":-74},{"s":"G","f":97.34,"y":-72},{"s":"G","f":100.7,"y":-74},{"s":"G","f":104.1,"y":-75},{"s":"G","f":107.7,"y":-72.5},{"s":"G","f":111.4,"y":-74},{"s":"G","f":115.3,"y":-76},{"s":"G","f":119.2,"y":-74},{"s":"G","f":123.3,"y":-75},{"s":"G","f":127.5,"y":-73},{"s":"G","f":131.9,"y":-75},{"s":"G","f":136.4,"y":-74},{"s":"G","f":141.1,"y":-76},{"s":"G","f":145.9,"y":-75},{"s":"G","f":150.9,"y":-73.5},{"s":"G","f":156.1,"y":-75},{"s":"G","f":161.5,"y":-74},{"s":"G","f":167.1,"y":-72},{"s":"G","f":172.8,"y":-73},{"s":"G","f":178.7,"y":-74},{"s":"G","f":184.9,"y":-75},{"s":"G","f":191.2,"y":-74},{"s":"G","f":197.8,"y":-75},{"s":"G","f":204.6,"y":-73.5},{"s":"G","f":211.6,"y":-75},{"s":"G","f":218.9,"y":-74},{"s":"G","f":226.4,"y":-76},{"s":"G","f":234.2,"y":-75},{"s":"G","f":242.2,"y":-74},{"s":"G","f":250.5,"y":-75},{"s":"G","f":259.1,"y":-74.5},{"s":"G","f":268,"y":-74},{"s":"G","f":277.3,"y":-75.5},{"s":"G","f":286.8,"y":-76.5},{"s":"G","f":296.6,"y":-75.5},{"s":"G","f":306.8,"y":-76},{"s":"G","f":317.4,"y":-76.2},{"s":"G","f":328.3,"y":-75.5},{"s":"G","f":339.5,"y":-75},{"s":"G","f":351.2,"y":-74.5},{"s":"G","f":363.3,"y":-75.5},{"s":"G","f":375.8,"y":-77.5},{"s":"G","f":388.7,"y":-76.5},{"s":"G","f":402,"y":-76},{"s":"G","f":415.8,"y":-75.8},{"s":"G","f":430.1,"y":-75.5},{"s":"G","f":444.9,"y":-75},{"s":"G","f":460.2,"y":-74},{"s":"G","f":476,"y":-73.5},{"s":"G","f":492.3,"y":-72.5},{"s":"G","f":509.2,"y":-74.5},{"s":"G","f":526.7,"y":-76.5},{"s":"G","f":544.8,"y":-77.8},{"s":"G","f":563.6,"y":-77.3},{"s":"G","f":582.9,"y":-77},{"s":"G","f":602.9,"y":-76.5},{"s":"G","f":623.6,"y":-76.8},{"s":"G","f":645.1,"y":-76.7},{"s":"G","f":667.2,"y":-77.5},{"s":"G","f":690.2,"y":-79},{"s":"G","f":713.9,"y":-80},{"s":"G","f":738.4,"y":-80.9},{"s":"G","f":763.7,"y":-80.2},{"s":"G","f":790,"y":-79.5},{"s":"G","f":817.1,"y":-79.8},{"s":"G","f":845.2,"y":-80},{"s":"G","f":874.2,"y":-79.6},{"s":"G","f":904.3,"y":-79.7},{"s":"G","f":935.3,"y":-80.1},{"s":"G","f":967.5,"y":-79.8},{"s":"G","f":1001,"y":-79.9},{"s":"G","f":1035,"y":-79.6},{"s":"G","f":1070,"y":-79.5},{"s":"G","f":1107,"y":-79.2},{"s":"G","f":1145,"y":-79.3},{"s":"G","f":1185,"y":-79},{"s":"G","f":1225,"y":-78.5},{"s":"G","f":1267,"y":-78},{"s":"G","f":1311,"y":-77.5},{"s":"G","f":1356,"y":-77},{"s":"G","f":1403,"y":-76.2},{"s":"G","f":1451,"y":-76.5},{"s":"G","f":1501,"y":-77},{"s":"G","f":1552,"y":-77.5},{"s":"G","f":1605,"y":-78},{"s":"G","f":1660,"y":-78.3},{"s":"G","f":1717,"y":-78.4},{"s":"G","f":1776,"y":-78.5},{"s":"G","f":1837,"y":-78.8},{"s":"G","f":1900,"y":-79},{"s":"G","f":1966,"y":-79.3},{"s":"G","f":2033,"y":-79.1},{"s":"G","f":2103,"y":-79},{"s":"G","f":2175,"y":-79.3},{"s":"G","f":2250,"y":-79.5},{"s":"G","f":2327,"y":-80},{"s":"G","f":2407,"y":-80.5},{"s":"G","f":2489,"y":-80.9},{"s":"G","f":2575,"y":-80.8},{"s":"G","f":2663,"y":-80.7},{"s":"G","f":2755,"y":-80.5},{"s":"G","f":2849,"y":-80.4},{"s":"G","f":2947,"y":-79.8},{"s":"G","f":3048,"y":-78.5},{"s":"G","f":3153,"y":-76.5},{"s":"G","f":3261,"y":-74},{"s":"G","f":3373,"y":-73.5},{"s":"G","f":3489,"y":-72},{"s":"G","f":3609,"y":-70.5},{"s":"G","f":3733,"y":-69.3},{"s":"G","f":3861,"y":-71},{"s":"G","f":3994,"y":-73},{"s":"G","f":4131,"y":-75},{"s":"G","f":4273,"y":-76.5},{"s":"G","f":4420,"y":-77.2},{"s":"G","f":4571,"y":-75.5},{"s":"G","f":4728,"y":-74},{"s":"G","f":4890,"y":-74.5},{"s":"G","f":5058,"y":-73.7},{"s":"G","f":5232,"y":-74.5},{"s":"G","f":5412,"y":-75.5},{"s":"G","f":5597,"y":-77.5},{"s":"G","f":5790,"y":-79},{"s":"G","f":5988,"y":-78.5},{"s":"G","f":6194,"y":-77.8},{"s":"G","f":6406,"y":-77.2},{"s":"G","f":6626,"y":-75.5},{"s":"G","f":6854,"y":-74},{"s":"G","f":7089,"y":-75},{"s":"G","f":7332,"y":-77.5},{"s":"G","f":7584,"y":-78.8},{"s":"G","f":7845,"y":-77.5},{"s":"G","f":8114,"y":-76.3},{"s":"G","f":8393,"y":-76},{"s":"G","f":8681,"y":-77.3},{"s":"G","f":8979,"y":-78},{"s":"G","f":9288,"y":-77.5},{"s":"G","f":9606,"y":-75.5},{"s":"G","f":10000,"y":-70.9},
{"s":"H","f":10,"y":-60},{"s":"H","f":10.48,"y":-61},{"s":"H","f":11.21,"y":-62},{"s":"H","f":12,"y":-65},{"s":"H","f":12.84,"y":-68.3},{"s":"H","f":13.73,"y":-69.5},{"s":"H","f":14.7,"y":-70.5},{"s":"H","f":15.2,"y":-72},{"s":"H","f":15.72,"y":-70},{"s":"H","f":16.26,"y":-64},{"s":"H","f":16.82,"y":-59.5},{"s":"H","f":17.4,"y":-60},{"s":"H","f":17.99,"y":-64},{"s":"H","f":18.61,"y":-69},{"s":"H","f":19.25,"y":-72},{"s":"H","f":19.91,"y":-73},{"s":"H","f":20.6,"y":-71.5},{"s":"H","f":21.31,"y":-70},{"s":"H","f":22.03,"y":-67.5},{"s":"H","f":22.79,"y":-66.5},{"s":"H","f":23.58,"y":-67},{"s":"H","f":24.39,"y":-68},{"s":"H","f":25.22,"y":-69.5},{"s":"H","f":26.09,"y":-71},{"s":"H","f":26.98,"y":-73},{"s":"H","f":27.91,"y":-75.5},{"s":"H","f":28.87,"y":-77},{"s":"H","f":29.86,"y":-78.8},{"s":"H","f":30.89,"y":-78},{"s":"H","f":31.95,"y":-76},{"s":"H","f":33.04,"y":-73},{"s":"H","f":34.18,"y":-70},{"s":"H","f":35.35,"y":-68},{"s":"H","f":36.57,"y":-67.5},{"s":"H","f":37.82,"y":-68.5},{"s":"H","f":39.12,"y":-70},{"s":"H","f":40.46,"y":-70.5},{"s":"H","f":41.85,"y":-72},{"s":"H","f":43.29,"y":-73},{"s":"H","f":44.78,"y":-72},{"s":"H","f":46.32,"y":-71},{"s":"H","f":47.91,"y":-70},{"s":"H","f":49.55,"y":-69.5},{"s":"H","f":51.25,"y":-70.5},{"s":"H","f":53.02,"y":-72},{"s":"H","f":54.84,"y":-73.5},{"s":"H","f":56.72,"y":-72},{"s":"H","f":58.67,"y":-74},{"s":"H","f":60.68,"y":-73},{"s":"H","f":62.77,"y":-71},{"s":"H","f":64.92,"y":-69},{"s":"H","f":67.15,"y":-71.5},{"s":"H","f":69.46,"y":-73},{"s":"H","f":71.85,"y":-71},{"s":"H","f":74.31,"y":-72.5},{"s":"H","f":76.87,"y":-74},{"s":"H","f":79.5,"y":-72},{"s":"H","f":82.23,"y":-73},{"s":"H","f":85.06,"y":-71},{"s":"H","f":87.98,"y":-74},{"s":"H","f":91,"y":-75},{"s":"H","f":94.13,"y":-73},{"s":"H","f":97.34,"y":-71.5},{"s":"H","f":100.7,"y":-73},{"s":"H","f":104.1,"y":-75},{"s":"H","f":107.7,"y":-74},{"s":"H","f":111.4,"y":-72.5},{"s":"H","f":115.3,"y":-74},{"s":"H","f":119.2,"y":-75},{"s":"H","f":123.3,"y":-73},{"s":"H","f":127.5,"y":-74.5},{"s":"H","f":131.9,"y":-76},{"s":"H","f":136.4,"y":-74},{"s":"H","f":141.1,"y":-73},{"s":"H","f":145.9,"y":-75},{"s":"H","f":150.9,"y":-74},{"s":"H","f":156.1,"y":-73},{"s":"H","f":161.5,"y":-72},{"s":"H","f":167.1,"y":-73.5},{"s":"H","f":172.8,"y":-72.5},{"s":"H","f":178.7,"y":-74},{"s":"H","f":184.9,"y":-73},{"s":"H","f":191.2,"y":-74.5},{"s":"H","f":197.8,"y":-73},{"s":"H","f":204.6,"y":-74},{"s":"H","f":211.6,"y":-75},{"s":"H","f":218.9,"y":-74},{"s":"H","f":226.4,"y":-75.5},{"s":"H","f":234.2,"y":-74},{"s":"H","f":242.2,"y":-75},{"s":"H","f":250.5,"y":-74},{"s":"H","f":259.1,"y":-73.5},{"s":"H","f":268,"y":-74.5},{"s":"H","f":277.3,"y":-74},{"s":"H","f":286.8,"y":-75},{"s":"H","f":296.6,"y":-74.5},{"s":"H","f":306.8,"y":-75},{"s":"H","f":317.4,"y":-74},{"s":"H","f":328.3,"y":-74.5},{"s":"H","f":339.5,"y":-75},{"s":"H","f":351.2,"y":-74.5},{"s":"H","f":363.3,"y":-75.5},{"s":"H","f":375.8,"y":-76}
]},
"mark":{"type":"line","interpolate":"monotone","color":"#ff0000","clip":true},
"encoding":{
"x":{"field":"f","type":"quantitative","scale":{"type":"log","domain":[10,20000],"nice":false},
"axis":{"title":"Frequency (Hz)","values":[10,20,30,40,50,60,70,80,90,100,200,300,400,500,600,700,800,900,1000,2000,3000,4000,5000,6000,7000,8000,9000,10000,20000],
"labelExpr":"datum.value==10?'10':datum.value==100?'100':datum.value==1000?'1k':datum.value==10000?'10k':''",
"grid":true,"gridColor":{"condition":{"test":"datum.value==10||datum.value==100||datum.value==1000||datum.value==10000","value":"#9a9a9a"},"value":"#dadada"},
"ticks":false,"domain":false,"labelFlush":false,"labelOverlap":false,"labelFont":"Liberation Sans","labelFontSize":11.5,"labelColor":"#333333","labelPadding":4,
"titleFont":"Liberation Sans","titleFontSize":13,"titleFontWeight":"normal","titleColor":"#222222","titlePadding":3}},
"y":{"field":"y","type":"quantitative","scale":{"domain":[-89.3,0],"nice":false,"zero":false},
"axis":{"title":"Magnitude (dB)","values":[-88,-86,-84,-82,-80,-78,-76,-74,-72,-70,-68,-66,-64,-62,-60,-58,-56,-54,-52,-50,-48,-46,-44,-42,-40,-38,-36,-34,-32,-30,-28,-26,-24,-22,-20,-18,-16,-14,-12,-10,-8,-6,-4,-2,0],
"labelExpr":"datum.value % 10 === 0 ? ('' + datum.value) : ''",
"grid":true,"gridColor":{"condition":{"test":"datum.value % 10 === 0","value":"#9a9a9a"},"value":"#dedede"},
"ticks":false,"domain":false,"labelOverlap":false,"labelFont":"Liberation Sans","labelFontSize":11.5,"labelColor":"#333333","labelPadding":4,
"titleFont":"Liberation Sans","titleFontSize":13,"titleFontWeight":"normal","titleColor":"#222222","titlePadding":5}},
"detail":{"field":"s","type":"nominal"},
"strokeWidth":{"field":"s","type":"nominal","scale":{"domain":["A","B","C","D","E","F","G","H"],"range":[2.3,2.3,1.1,1,1,1,1,1]},"legend":null},
"strokeDash":{"field":"s","type":"nominal","scale":{"domain":["A","B","C","D","E","F","G","H"],"range":[[1,0],[1,0],[1,0],[4,2],[4,2],[2,2],[1,0],[1,0]]},"legend":null},
"opacity":{"field":"s","type":"nominal","scale":{"domain":["A","B","C","D","E","F","G","H"],"range":[1,1,0.85,0.85,0.6,0.85,0.85,0.6]},"legend":null}
}
}
